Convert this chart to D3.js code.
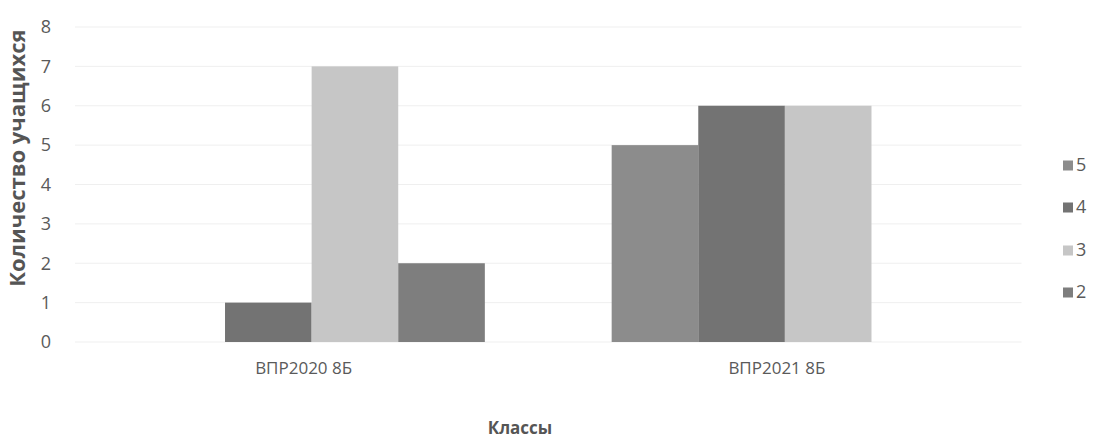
<!DOCTYPE html>
<html><head><meta charset="utf-8">
<script src="https://cdn.jsdelivr.net/npm/d3@7"></script>
<style>body{margin:0;background:#fff}svg{display:block}</style>
</head><body><svg id="c" width="1093" height="440"></svg>
<script>
const categories = ["ВПР2020 8Б", "ВПР2021 8Б"];
const seriesNames = ["5", "4", "3", "2"];
const values5 = [0, 5];
const values4 = [1, 6];
const values3 = [7, 6];
const values2 = [2, 0];
const yTicks = [0, 1, 2, 3, 4, 5, 6, 7, 8];
const seriesColors = ["#8c8c8c", "#737373", "#c6c6c6", "#7e7e7e"];

(function () {
const seriesValues = [values5, values4, values3, values2];
const svg = d3.select("#c");
const font = "'Open Sans', sans-serif";
const pLeft = 75, pRight = 1021.5, pTop = 27, pBottom = 342;

const x = d3.scaleBand().domain(categories).range([pLeft, pRight]).paddingInner(0.268).paddingOuter(0.134);
const xs = d3.scaleBand().domain(seriesNames).range([0, x.bandwidth()]);
const y = d3.scaleLinear().domain([0, 8]).range([pBottom, pTop]);

// gridlines
svg.append("g").selectAll("line").data(yTicks).join("line")
  .attr("x1", pLeft).attr("x2", pRight)
  .attr("y1", d => y(d)).attr("y2", d => y(d))
  .attr("stroke", "#efefef").attr("stroke-width", 1);

// bars
const groups = svg.append("g").selectAll("g").data(categories).join("g")
  .attr("transform", d => `translate(${x(d)},0)`);
groups.selectAll("rect").data((c, i) => seriesNames.map((s, j) => ({s, v: seriesValues[j][i], j})))
  .join("rect")
  .attr("x", d => xs(d.s)).attr("width", xs.bandwidth())
  .attr("y", d => y(d.v)).attr("height", d => pBottom - y(d.v))
  .attr("fill", d => seriesColors[d.j]);

// y axis
const yAxis = svg.append("g").attr("transform", `translate(${pLeft},0)`)
  .call(d3.axisLeft(y).tickValues(yTicks).tickSize(0).tickPadding(24));
yAxis.select(".domain").remove();
yAxis.selectAll("text").attr("font-family", font).attr("font-size", 18).attr("fill", "#5a5a5a");

// x axis
const xAxis = svg.append("g").attr("transform", `translate(0,${pBottom})`)
  .call(d3.axisBottom(x).tickSize(0).tickPadding(20));
xAxis.select(".domain").remove();
xAxis.selectAll("text").attr("font-family", font).attr("font-size", 17).attr("fill", "#5a5a5a").attr("dx", -8);

// axis titles
svg.append("text").attr("transform", "translate(25,158) rotate(-90)")
  .attr("text-anchor", "middle").attr("font-family", font).attr("font-weight", "bold")
  .attr("font-size", 22).attr("fill", "#555").text("Количество учащихся");
svg.append("text").attr("x", 520).attr("y", 434)
  .attr("text-anchor", "middle").attr("font-family", font).attr("font-weight", "bold")
  .attr("font-size", 17).attr("fill", "#555").text("Классы");

// legend
const legY = [165, 207, 250, 292];
const leg = svg.append("g").selectAll("g").data(seriesNames).join("g")
  .attr("transform", (d, i) => `translate(1063,${legY[i]})`);
leg.append("rect").attr("x", 0).attr("y", -4.5).attr("width", 10).attr("height", 10)
  .attr("fill", (d, i) => seriesColors[i]);
leg.append("text").attr("x", 13).attr("y", 0).attr("dy", "0.35em")
  .attr("font-family", font).attr("font-size", 18).attr("fill", "#5a5a5a").text(d => d);
})();
</script></body></html>
